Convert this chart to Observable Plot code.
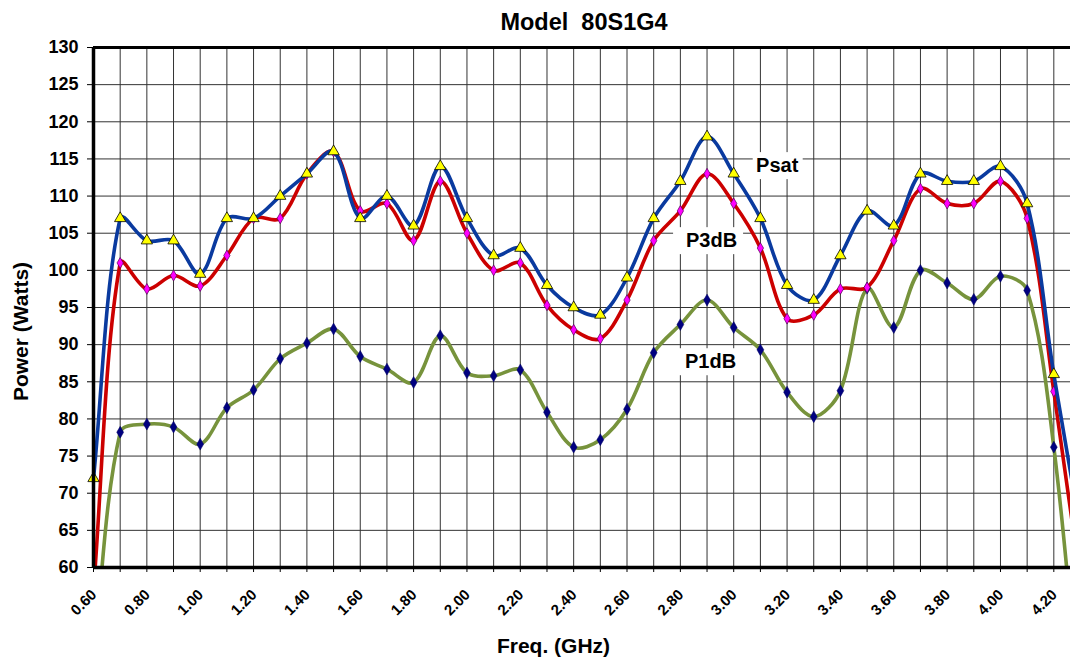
<!DOCTYPE html>
<html><head><meta charset="utf-8">
<script src="https://cdn.jsdelivr.net/npm/d3@7"></script>
<script src="https://cdn.jsdelivr.net/npm/@observablehq/plot@0.6"></script>
<style>
body{margin:0;background:#fff;font-family:"Liberation Sans",Arial,sans-serif;}
#title{height:44px;position:relative;}
#title span{position:absolute;left:584px;top:0;line-height:44px;transform:translateX(-50%);font-weight:bold;font-size:23.5px;white-space:pre;color:#000;}
</style></head><body>
<div id="title"><span>Model  80S1G4</span></div>
<div id="chart"></div>
<script>
const freq = [0.6,0.7,0.8,0.9,1.0,1.1,1.2,1.3,1.4,1.5,1.6,1.7,1.8,1.9,2.0,2.1,2.2,2.3,2.4,2.5,2.6,2.7,2.8,2.9,3.0,3.1,3.2,3.3,3.4,3.5,3.6,3.7,3.8,3.9,4.0,4.1,4.2,4.3];
const psat = [72,107,104,104,99.5,107,107,110,113,116,107,110,106,114,107,102,103,98,95,94,99,107,112,118,113,107,98,96,102,108,106,113,112,112,114,109,86,65];
const p3db = [57,101,97.5,99.3,97.9,102,107,107,113,116,108,109,104,112,105,100,101,95.3,92,90.8,96,104,108,113,109,103,93.5,94,97.5,97.7,104,111,109,109,112,107,83.7,58];
const p1db = [48,78.2,79.3,78.9,76.6,81.5,83.9,88.1,90.2,92.1,88.4,86.7,84.9,91.2,86.2,85.8,86.6,80.9,76.2,77.2,81.3,88.9,92.7,96,92.3,89.3,83.6,80.3,83.8,97.6,92.3,100,98.3,96.1,99.2,97.3,76.2,40];
const xGridTicks = [0.6,0.7,0.8,0.9,1.0,1.1,1.2,1.3,1.4,1.5,1.6,1.7,1.8,1.9,2.0,2.1,2.2,2.3,2.4,2.5,2.6,2.7,2.8,2.9,3.0,3.1,3.2,3.3,3.4,3.5,3.6,3.7,3.8,3.9,4.0,4.1,4.2];
const xLabelTicks = [0.6,0.8,1.0,1.2,1.4,1.6,1.8,2.0,2.2,2.4,2.6,2.8,3.0,3.2,3.4,3.6,3.8,4.0,4.2];
const yTicks = [60,65,70,75,80,85,90,95,100,105,110,115,120,125,130];
const seriesNames = ["Psat","P3dB","P1dB"];
const labelX = [3.163,2.917,2.913];
const labelY = [114.1,104.0,87.7];

const xDomain = [0.6, 4.2625];
const yDomain = [60, 130];

// Spreadsheet-style smoothed line: Bezier segments whose control points
// are scaled by the relative lengths of neighbouring segments (screen space).
function SmoothCurve(context){ this._context = context; }
SmoothCurve.prototype = {
  areaStart(){ this._line = 0; },
  areaEnd(){ this._line = NaN; },
  lineStart(){ this._pts = []; },
  point(x, y){ this._pts.push([+x, +y]); },
  lineEnd(){
    const p = this._pts, c = this._context, n = p.length;
    if (!n) return;
    c.moveTo(p[0][0], p[0][1]);
    if (n === 1) return;
    const dist = (a, b) => Math.hypot(b[0]-a[0], b[1]-a[1]);
    for (let i = 0; i < n - 1; i++) {
      const P0 = p[i-1] || p[i], P1 = p[i], P2 = p[i+1], P3 = p[i+2] || p[i+1];
      const d01 = dist(P0,P1), d12 = dist(P1,P2), d23 = dist(P2,P3);
      const f1 = (d01 + d12) > 0 ? d12 / (d01 + d12) / 3 : 0;
      const f2 = (d12 + d23) > 0 ? d12 / (d12 + d23) / 3 : 0;
      const c1 = [P1[0] + (P2[0]-P0[0]) * f1, P1[1] + (P2[1]-P0[1]) * f1];
      const c2 = [P2[0] - (P3[0]-P1[0]) * f2, P2[1] - (P3[1]-P1[1]) * f2];
      c.bezierCurveTo(c1[0], c1[1], c2[0], c2[1], P2[0], P2[1]);
    }
  }
};
const smooth = (context) => new SmoothCurve(context);

const rows = (vals) => freq.map((f,i)=>({f, v: vals[i]}));
const visible = (r) => r.f <= xDomain[1] && r.v >= yDomain[0];
const sPsat = rows(psat), s3 = rows(p3db), s1 = rows(p1db);
const labels = seriesNames.map((n,i)=>({name:n, x:labelX[i], y:labelY[i]}));

const lineOpts = {x:"f", y:"v", strokeWidth:3.6, curve:smooth, clip:true};

const chart = Plot.plot({
  width:1070, height:613,
  marginLeft:93, marginRight:0, marginTop:3, marginBottom:90,
  x:{domain:xDomain, axis:null},
  y:{domain:yDomain, axis:null},
  style:{fontFamily:"'Liberation Sans', Arial, sans-serif", fontWeight:"bold", color:"#000", background:"#fff", overflow:"visible"},
  marks:[
    Plot.gridX(xGridTicks, {stroke:"#333", strokeOpacity:1, strokeWidth:1}),
    Plot.gridY(yTicks, {stroke:"#333", strokeOpacity:1, strokeWidth:1}),
    ...labels.map(l => Plot.rect([l], {x1:"x", x2:"x", y1:"y", y2:"y", fill:"#fff",
        insetLeft:-(l.name==="Psat"?24:38), insetRight:-(l.name==="Psat"?26:32), insetTop:-13, insetBottom:-14})),
    Plot.text(labels, {x:"x", y:"y", text:"name", fontSize:20, fontWeight:"bold", fill:"#000"}),
    Plot.line(s1, {...lineOpts, stroke:"#77933c"}),
    Plot.dot(s1.filter(visible), {x:"f", y:"v", symbol:"diamond", r:3.6, fill:"#000080", stroke:"#000060", strokeWidth:0.5}),
    Plot.line(s3, {...lineOpts, stroke:"#cc0000"}),
    Plot.dot(s3.filter(visible), {x:"f", y:"v", symbol:"diamond", r:3.3, fill:"#ff00ff", stroke:"#550055", strokeWidth:0.7}),
    Plot.line(sPsat, {...lineOpts, stroke:"#0a3a9f"}),
    Plot.dot(sPsat.filter(visible), {x:"f", y:"v", symbol:"triangle", r:4.2, fill:"#ffff00", stroke:"#000", strokeWidth:0.8}),
    Plot.ruleX([xDomain[0]], {stroke:"#000", strokeWidth:3.5}),
    Plot.ruleY([yDomain[0]], {stroke:"#000", strokeWidth:3.5}),
    Plot.ruleY([yDomain[1]], {stroke:"#000", strokeWidth:3}),
    Plot.axisY({ticks:yTicks, tickSize:6, tickPadding:9, fontSize:18, fontWeight:"bold", tickFormat:d=>String(d), label:null, stroke:"#000"}),
    Plot.axisX({ticks:xGridTicks, tickSize:5, tickFormat:()=>"", label:null, stroke:"#000"}),
    Plot.text(xLabelTicks, {x:d=>d, frameAnchor:"bottom", dx:4, dy:28, rotate:-45, textAnchor:"end", lineAnchor:"bottom", text:d=>d.toFixed(2), fontSize:15, fontWeight:"bold", fill:"#000"}),
    Plot.text(["Power (Watts)"], {frameAnchor:"left", dx:-72, dy:24, rotate:-90, textAnchor:"middle", lineAnchor:"middle", text:d=>d, fontSize:21, fontWeight:"bold", fill:"#000"}),
    Plot.text(["Freq. (GHz)"], {frameAnchor:"bottom", dx:-28.5, dy:79, textAnchor:"middle", lineAnchor:"middle", text:d=>d, fontSize:21, fontWeight:"bold", fill:"#000"})
  ]
});
document.getElementById("chart").appendChild(chart);
</script>
</body></html>
